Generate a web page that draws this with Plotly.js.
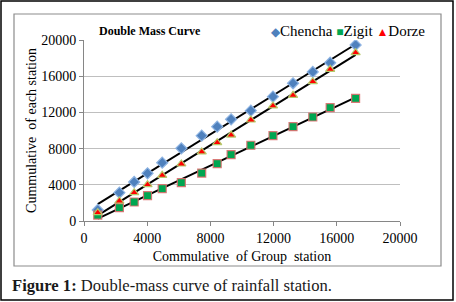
<!DOCTYPE html>
<html>
<head>
<meta charset="utf-8">
<script src="https://cdn.plot.ly/plotly-3.0.1.min.js"></script>
<style>
html,body{margin:0;padding:0;background:#fff;}
#chart{width:456px;height:302px;}
</style>
</head>
<body>
<div id="chart"></div>
<script>
// Data
var groupCum = [870, 2240, 3175, 4020, 4950, 6160, 7450, 8430, 9310, 10560, 11960, 13230, 14480, 15580, 17190];
var chencha  = [1220, 3130, 4310, 5270, 6440, 8030, 9430, 10420, 11240, 12190, 13740, 15220, 16470, 17490, 19450];
var zigit    = [660, 1470, 2100, 2800, 3570, 4230, 5300, 6330, 7330, 8370, 9430, 10420, 11490, 12520, 13560];
var dorze    = [920, 2210, 3130, 4010, 5050, 6300, 7630, 8650, 9500, 11160, 12710, 13890, 15390, 16760, 18600];
var seriesNames = ["Chencha", "Zigit", "Dorze"];
var xTicks = [0, 4000, 8000, 12000, 16000, 20000];
var yTicks = [0, 4000, 8000, 12000, 16000, 20000];

function linfit(x, y) {
  var n = x.length, sx = 0, sy = 0, sxx = 0, sxy = 0;
  for (var i = 0; i < n; i++) { sx += x[i]; sy += y[i]; sxx += x[i]*x[i]; sxy += x[i]*y[i]; }
  var b = (n*sxy - sx*sy) / (n*sxx - sx*sx);
  var a = (sy - b*sx) / n;
  var x0 = Math.min.apply(null, x), x1 = Math.max.apply(null, x);
  return {x: [x0, x1], y: [a + b*x0, a + b*x1]};
}

var styles = [
  {symbol: 'diamond', color: '#4F81BD', line: '#8DB3E2', size: 8.5},
  {symbol: 'square', color: '#00A651', line: 'rgba(220,110,110,0.9)', size: 8},
  {symbol: 'triangle-up', color: '#FF0000', line: '#B5C96A', size: 8}
];
var ys = [chencha, zigit, dorze];
var traces = [];
for (var k = 0; k < 3; k++) {
  var f = linfit(groupCum, ys[k]);
  traces.push({x: f.x, y: f.y, mode: 'lines', type: 'scatter', showlegend: false,
    line: {color: '#000', width: 2}, hoverinfo: 'skip'});
}
for (var k = 0; k < 3; k++) {
  traces.push({x: groupCum, y: ys[k], mode: 'markers', type: 'scatter', name: seriesNames[k],
    showlegend: false,
    marker: {symbol: styles[k].symbol, size: styles[k].size, color: styles[k].color,
      line: {color: styles[k].line, width: 1.2}}});
}

var serif = "'Liberation Serif', 'Times New Roman', serif";
var L = 84, T = 40, W = 316, H = 181;
function px(x) { return (x - L) / W; }
function py(y) { return (T + H - y) / H; }

var glyphs = ['◆', '■', '▲'];
var legendText = seriesNames.map(function (n, i) {
  return '<span style="color:' + styles[i].color + ';font-size:12px">' + glyphs[i] + '</span>' + n;
}).join(' ');

var layout = {
  width: 456, height: 302,
  margin: {l: L, r: 456 - L - W, t: T, b: 302 - T - H, pad: 0},
  paper_bgcolor: '#fff', plot_bgcolor: '#fff',
  showlegend: false,
  font: {family: serif, size: 14, color: '#000'},
  xaxis: {range: [0, 20000], tickvals: xTicks, ticktext: xTicks.map(String),
    showgrid: false, zeroline: false, showline: true, linecolor: '#868686', linewidth: 1,
    ticks: 'outside', ticklen: 4, tickcolor: '#868686',
    tickfont: {family: serif, size: 14},
    title: {text: 'Commulative&nbsp; of Group&nbsp; station', font: {family: serif, size: 14}, standoff: 6}},
  yaxis: {range: [0, 20000], tickvals: yTicks, ticktext: yTicks.map(String),
    showgrid: true, gridcolor: '#BFBFBF', gridwidth: 1, zeroline: false,
    showline: true, linecolor: '#868686', linewidth: 1,
    ticks: 'outside', ticklen: 4, tickcolor: '#868686',
    tickfont: {family: serif, size: 14},
    title: {text: 'Cummulative&nbsp; of each station', font: {family: serif, size: 14}, standoff: 1}},
  shapes: [
    {type: 'rect', xref: 'paper', yref: 'paper', x0: px(14), x1: px(441), y0: py(266), y1: py(14),
      line: {color: '#8C8C8C', width: 1.2}, fillcolor: 'rgba(0,0,0,0)', layer: 'below'},
    {type: 'rect', xref: 'paper', yref: 'paper', x0: px(1), x1: px(453), y0: py(300), y1: py(1),
      line: {color: '#000', width: 1.5}, fillcolor: 'rgba(0,0,0,0)', layer: 'below'}
  ],
  annotations: [
    {xref: 'paper', yref: 'paper', x: px(97), y: py(31), xanchor: 'left', yanchor: 'middle',
      text: '<b>Double Mass Curve</b>', showarrow: false, font: {family: serif, size: 12, color: '#000'}},
    {xref: 'paper', yref: 'paper', x: px(427), y: py(31), xanchor: 'right', yanchor: 'middle',
      text: legendText, showarrow: false, font: {family: serif, size: 15, color: '#000'}},
    {xref: 'paper', yref: 'paper', x: px(10), y: py(285), xanchor: 'left', yanchor: 'middle',
      text: '<b>Figure 1:</b> Double-mass curve of rainfall station.', showarrow: false,
      font: {family: serif, size: 16.6, color: '#1a1a1a'}}
  ]
};

Plotly.newPlot('chart', traces, layout, {displayModeBar: false, staticPlot: true});
</script>
</body>
</html>
